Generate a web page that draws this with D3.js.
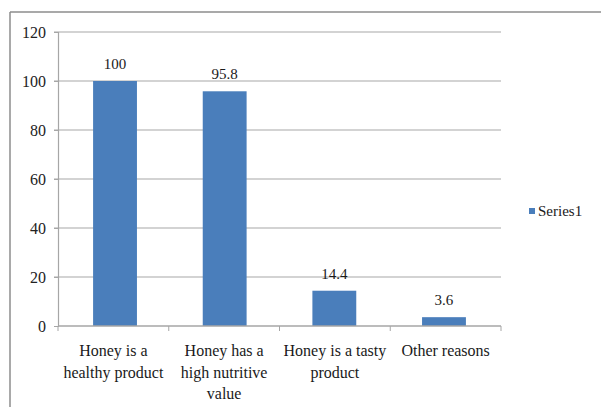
<!DOCTYPE html>
<html>
<head>
<meta charset="utf-8">
<script src="https://cdn.jsdelivr.net/npm/d3@7"></script>
<style>
  html, body { margin: 0; padding: 0; background: #fff; }
  svg { display: block; }
</style>
</head>
<body>
<script>
// Reasons for buying honey (percent of respondents)
const categories = [
  ["Honey is a", "healthy product"],
  ["Honey has a", "high nutritive", "value"],
  ["Honey is a tasty", "product"],
  ["Other reasons"]
];
const values = [100, 95.8, 14.4, 3.6];
const valueLabels = ["100", "95.8", "14.4", "3.6"];
const yTicks = [0, 20, 40, 60, 80, 100, 120];
const seriesName = "Series1";

const W = 601, H = 407;
const plot = { left: 58, right: 501, top: 32, bottom: 326 };
const barColor = "#4a7ebb";
const FONT = "'Liberation Serif', 'Times New Roman', Times, 'DejaVu Serif', serif";

const svg = d3.select("body").append("svg")
  .attr("width", W).attr("height", H)
  .attr("font-family", FONT);

// chart frame (top and left edges visible)
svg.append("line").attr("x1", 10).attr("x2", W).attr("y1", 12).attr("y2", 12)
  .attr("stroke", "#8c8c8c").attr("stroke-width", 1.5);
svg.append("line").attr("x1", 10).attr("x2", 10).attr("y1", 12).attr("y2", H)
  .attr("stroke", "#8c8c8c").attr("stroke-width", 1.5);

const x = d3.scaleBand()
  .domain(d3.range(categories.length))
  .range([plot.left, plot.right])
  .paddingInner(0.6).paddingOuter(0.32);

const y = d3.scaleLinear().domain([0, 120]).range([plot.bottom, plot.top]);

// gridlines
svg.append("g").selectAll("line").data(yTicks.filter(d => d > 0)).join("line")
  .attr("x1", plot.left - 4).attr("x2", plot.right)
  .attr("y1", d => y(d)).attr("y2", d => y(d))
  .attr("stroke", "#c4c4c4").attr("stroke-width", 1.6);

// y axis
const yAxis = svg.append("g")
  .attr("transform", `translate(${plot.left},0)`)
  .call(d3.axisLeft(y).tickValues(yTicks).tickSize(4).tickPadding(8))
  .attr("font-family", FONT).attr("font-size", "16px");
yAxis.select(".domain").attr("stroke", "#a6a6a6").attr("stroke-width", 1.2);
yAxis.selectAll(".tick line").attr("stroke", "#a6a6a6");
yAxis.selectAll(".tick text").attr("fill", "#222");

// bars
svg.append("g").selectAll("rect").data(values).join("rect")
  .attr("x", (d, i) => x(i))
  .attr("width", x.bandwidth())
  .attr("y", d => y(d))
  .attr("height", d => y(0) - y(d))
  .attr("fill", barColor);

// x axis baseline and category separators
svg.append("line").attr("x1", plot.left).attr("x2", plot.right)
  .attr("y1", y(0)).attr("y2", y(0))
  .attr("stroke", "#a6a6a6").attr("stroke-width", 1.5);
const step = (plot.right - plot.left) / categories.length;
svg.append("g").selectAll("line").data(d3.range(categories.length + 1)).join("line")
  .attr("x1", i => plot.left + i * step).attr("x2", i => plot.left + i * step)
  .attr("y1", y(0)).attr("y2", y(0) + 5)
  .attr("stroke", "#a6a6a6");

// value labels
svg.append("g").selectAll("text").data(values).join("text")
  .attr("x", (d, i) => x(i) + x.bandwidth() / 2)
  .attr("y", d => y(d) - 12)
  .attr("text-anchor", "middle")
  .attr("font-size", "15px").attr("fill", "#1a1a1a")
  .text((d, i) => valueLabels[i]);

// category labels
const catG = svg.append("g");
categories.forEach((lines, i) => {
  const t = catG.append("text")
    .attr("text-anchor", "middle")
    .attr("font-size", "16px").attr("fill", "#1a1a1a");
  lines.forEach((ln, j) => {
    t.append("tspan")
      .attr("x", plot.left + step * (i + 0.5))
      .attr("y", 356 + j * 21.5)
      .text(ln);
  });
});

// legend
svg.append("rect").attr("x", 529).attr("y", 208).attr("width", 6).attr("height", 6)
  .attr("fill", barColor);
svg.append("text").attr("x", 538).attr("y", 216)
  .attr("font-size", "15px").attr("fill", "#1a1a1a").text(seriesName);
</script>
</body>
</html>
